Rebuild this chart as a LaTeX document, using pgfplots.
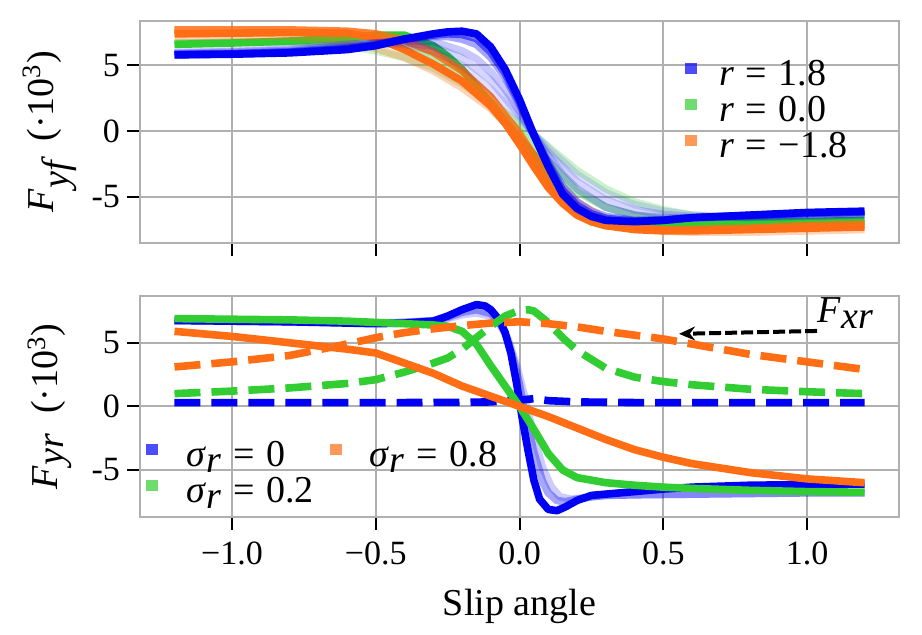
\documentclass[border=0pt]{standalone}
\usepackage{fontspec}
\setmainfont{Liberation Serif}
\usepackage{pgfplots}
\pgfplotsset{compat=1.18}
\usetikzlibrary{arrows.meta}
\definecolor{cblue}{RGB}{0,0,245}
\definecolor{cgreen}{RGB}{50,205,50}
\definecolor{corange}{RGB}{255,110,20}
\definecolor{cgrid}{RGB}{176,176,176}
\newcommand{\ff}{\rmfamily\fontsize{17}{20}\selectfont}
\newcommand{\fl}{\rmfamily\fontsize{19}{22}\selectfont}
\newcommand{\eq}{\hspace{0.3em}=\hspace{0.3em}}
\pgfplotsset{
 common/.style={
  scale only axis, width=379.5pt,
  xmin=-1.32, xmax=1.32,
  xtick={-1,-0.5,0,0.5,1},
  ytick={-5,0,5}, yticklabels={-5,0,5},
  xtick pos=left, ytick pos=left,
  grid=major, major grid style={cgrid, line width=1pt},
  axis line style={cgrid, line width=1pt},
  tick align=outside, major tick style={black, line width=1pt}, major tick length=6.5pt,
  tick label style={font=\ff},
  every axis plot/.append style={line width=3.8pt, line join=round},
  legend style={draw=none, fill=none, font=\fl, nodes={inner sep=0pt, text height=11pt, text depth=4pt}, row sep=2.5pt},
  legend cell align=left,
  every axis y label/.style={at={(axis description cs:-0.119,0.5)}, rotate=90, anchor=center, font=\fl},
 },
 dashedf/.style={dash pattern=on 13pt off 5.5pt},
}
\begin{document}
\begin{tikzpicture}
\path[use as bounding box] (0,0) rectangle (461pt,-317pt);
% ---------------- top axis
\begin{axis}[common, at={(70pt,-10.35pt)}, anchor=north west, height=111pt,
  ymin=-8.5, ymax=8.4, xticklabels={},
  ylabel={\textit{F}$_{\textit{yf}}$\enspace(·10\textsuperscript{3})},
  legend image code/.code={\path[#1, draw=none, fill, opacity=0.7] (0pt,2.5pt) rectangle (6pt,8pt);},
  legend style={at={(axis description cs:0.709,0.83)}, anchor=north west,
    /tikz/every odd column/.append style={column sep=11.5pt}},
]
\addlegendimage{cblue}\addlegendentry{\textit{r}\eq 1.8}
\addlegendimage{cgreen}\addlegendentry{\textit{r}\eq 0.0}
\addlegendimage{corange}\addlegendentry{\textit{r}\eq −1.8}
% green fan
\addplot[cgreen, opacity=0.25, forget plot] coordinates {(-1.2,6.7)(-0.8,6.8)(-0.6,6.5)(-0.5,6.1)(-0.4,5.6)(-0.3,4.8)(-0.2,3.6)(-0.1,2.2)(0,0.6)(0.1,-1.2)(0.2,-3.0)(0.3,-4.4)(0.4,-5.4)(0.5,-6.0)(0.6,-6.4)(0.8,-6.8)(1.0,-6.9)(1.2,-6.9)};
\addplot[cgreen, opacity=0.4, forget plot] coordinates {(-1.2,6.65)(-0.8,6.85)(-0.6,6.8)(-0.5,6.7)(-0.4,6.5)(-0.3,5.7)(-0.2,4.2)(-0.1,2.2)(0,0.0)(0.1,-2.3)(0.2,-4.6)(0.3,-5.8)(0.4,-6.4)(0.5,-6.7)(0.6,-6.9)(0.8,-6.9)(1.0,-6.9)(1.2,-6.85)};
\addplot[cgreen, forget plot] coordinates {(-1.2,6.6)(-1.0,6.7)(-0.8,6.85)(-0.6,7.1)(-0.5,7.3)(-0.4,7.3)(-0.3,6.5)(-0.25,5.7)(-0.2,4.7)(-0.15,3.4)(-0.1,2.1)(-0.05,0.7)(0,-0.6)(0.05,-1.8)(0.1,-3.4)(0.15,-5.0)(0.2,-6.2)(0.25,-6.9)(0.3,-7.2)(0.4,-7.4)(0.5,-7.35)(0.6,-7.2)(0.8,-7.0)(1.0,-6.9)(1.2,-6.8)};
% orange band
\addplot[corange, opacity=0.3, forget plot] coordinates {(-1.2,7.2)(-1.0,7.25)(-0.8,7.2)(-0.6,6.8)(-0.5,6.3)(-0.4,5.6)(-0.3,4.6)(-0.2,3.3)(-0.1,1.7)(0,-0.5)(0.1,-3.2)(0.2,-5.4)(0.3,-6.7)(0.4,-7.3)(0.5,-7.6)(0.6,-7.7)(0.8,-7.7)(1.0,-7.6)(1.2,-7.5)};
\addplot[corange, opacity=0.85, forget plot] coordinates {(-1.2,7.7)(-1.0,7.7)(-0.8,7.7)(-0.6,7.6)(-0.5,7.4)(-0.4,6.9)(-0.3,6.0)(-0.2,4.6)(-0.1,2.6)(0,-0.2)(0.05,-1.9)(0.1,-3.6)(0.2,-5.9)(0.3,-7.0)(0.4,-7.4)(0.5,-7.5)(0.6,-7.5)(0.8,-7.4)(1.0,-7.2)(1.2,-7.1)};
\addplot[corange, forget plot] coordinates {(-1.2,7.4)(-1.0,7.45)(-0.8,7.5)(-0.6,7.45)(-0.5,7.1)(-0.4,6.2)(-0.3,5.1)(-0.2,3.8)(-0.1,1.9)(-0.05,0.6)(0,-1.0)(0.05,-2.7)(0.1,-4.3)(0.15,-5.5)(0.2,-6.4)(0.25,-6.9)(0.3,-7.2)(0.4,-7.5)(0.5,-7.6)(0.6,-7.6)(0.8,-7.5)(1.0,-7.4)(1.2,-7.3)};
% blue fan
\addplot[cblue, opacity=0.12, forget plot] coordinates {(-1.2,6.0)(-1.0,6.1)(-0.8,6.3)(-0.6,6.6)(-0.5,6.7)(-0.4,6.6)(-0.3,6.1)(-0.2,5.0)(-0.1,3.2)(0,0.9)(0.05,-0.2)(0.1,-1.3)(0.2,-3.3)(0.3,-4.7)(0.4,-5.6)(0.5,-6.1)(0.6,-6.4)(0.8,-6.6)(1.0,-6.5)(1.2,-6.4)};
\addplot[cblue, opacity=0.16, forget plot] coordinates {(-1.2,5.95)(-1.0,6.05)(-0.8,6.22)(-0.6,6.55)(-0.5,6.7)(-0.4,6.75)(-0.3,6.45)(-0.2,5.55)(-0.1,3.85)(0,1.2)(0.05,-0.25)(0.1,-1.6)(0.2,-3.85)(0.3,-5.25)(0.4,-6.0)(0.5,-6.35)(0.6,-6.5)(0.8,-6.55)(1.0,-6.45)(1.2,-6.35)};
\addplot[cblue, opacity=0.22, forget plot] coordinates {(-1.2,5.9)(-1.0,6.0)(-0.8,6.15)(-0.6,6.5)(-0.5,6.7)(-0.4,6.9)(-0.3,6.8)(-0.2,6.1)(-0.15,5.5)(-0.1,4.5)(-0.05,3.2)(0,1.5)(0.05,-0.3)(0.1,-1.9)(0.15,-3.3)(0.2,-4.4)(0.3,-5.8)(0.4,-6.4)(0.5,-6.6)(0.6,-6.6)(0.8,-6.5)(1.0,-6.4)(1.2,-6.3)};
\addplot[cblue, opacity=0.35, forget plot] coordinates {(-1.2,5.85)(-1.0,5.9)(-0.8,6.05)(-0.6,6.35)(-0.5,6.6)(-0.4,7.0)(-0.3,7.2)(-0.25,7.2)(-0.2,7.0)(-0.15,6.6)(-0.1,5.6)(-0.05,4.1)(0,2.0)(0.05,-0.3)(0.1,-2.4)(0.15,-4.2)(0.2,-5.4)(0.25,-6.1)(0.3,-6.5)(0.4,-6.8)(0.5,-6.75)(0.6,-6.6)(0.8,-6.45)(1.0,-6.3)(1.2,-6.2)};
\addplot[cblue, opacity=0.55, forget plot] coordinates {(-1.2,5.8)(-1.0,5.87)(-0.8,6.0)(-0.6,6.27)(-0.5,6.55)(-0.4,7.0)(-0.3,7.3)(-0.25,7.4)(-0.2,7.35)(-0.15,7.05)(-0.1,6.0)(-0.05,4.4)(0,2.2)(0.05,-0.3)(0.1,-2.55)(0.15,-4.5)(0.2,-5.65)(0.25,-6.3)(0.3,-6.65)(0.4,-6.85)(0.5,-6.8)(0.6,-6.6)(0.8,-6.42)(1.0,-6.25)(1.2,-6.15)};
\addplot[cblue, forget plot] coordinates {(-1.2,5.8)(-1.0,5.85)(-0.8,5.95)(-0.6,6.2)(-0.5,6.5)(-0.4,7.0)(-0.3,7.4)(-0.25,7.55)(-0.2,7.6)(-0.15,7.4)(-0.1,6.4)(-0.05,4.7)(0,2.4)(0.05,-0.3)(0.1,-2.7)(0.15,-4.8)(0.2,-5.9)(0.25,-6.5)(0.3,-6.8)(0.4,-6.9)(0.5,-6.8)(0.6,-6.6)(0.8,-6.4)(1.0,-6.2)(1.2,-6.1)};
\end{axis}
% ---------------- bottom axis
\begin{axis}[common, at={(70pt,-147.85pt)}, anchor=north west, height=110.65pt,
  ymin=-8.7, ymax=8.7,
  xticklabels={−1.0,−0.5,0.0,0.5,1.0},
  xticklabel style={yshift=-2.5pt},
  xlabel={Slip angle},
  every axis x label/.style={at={(axis description cs:0.5,-0.402)}, anchor=center, font=\fl},
  ylabel={\textit{F}$_{\textit{yr}}$\enspace(·10\textsuperscript{3})},
  legend columns=2,
  legend image code/.code={\path[#1, draw=none, fill, opacity=0.7] (0pt,2.5pt) rectangle (6pt,8pt);},
  legend style={at={(axis description cs:0.0,0.35)}, anchor=north west,
    /tikz/every odd column/.append style={column sep=14pt},
    /tikz/every even column/.append style={column sep=8pt}},
]
\addlegendimage{cblue}\addlegendentry{\textit{σ}$_{\textit{r}}$\eq 0}
\addlegendimage{corange}\addlegendentry{\textit{σ}$_{\textit{r}}$\eq 0.8}
\addlegendimage{cgreen}\addlegendentry{\textit{σ}$_{\textit{r}}$\eq 0.2}
% blue sigma=0
\addplot[cblue, opacity=0.2, forget plot] coordinates {(-1.2,6.75)(-1.0,6.7)(-0.8,6.65)(-0.6,6.6)(-0.5,6.55)(-0.4,6.6)(-0.3,6.7)(-0.25,6.9)(-0.2,7.2)(-0.15,7.35)(-0.1,7.1)(-0.07,6.5)(-0.04,5.3)(-0.01,3.2)(0.02,0.6)(0.05,-2.4)(0.08,-4.8)(0.11,-6.3)(0.14,-7.1)(0.18,-7.3)(0.22,-7.2)(0.3,-7.0)(0.4,-6.95)(0.6,-6.9)(0.8,-6.85)(1.0,-6.8)(1.2,-6.8)};
\addplot[cblue, opacity=0.35, forget plot] coordinates {(-1.2,6.75)(-1.0,6.7)(-0.8,6.65)(-0.6,6.6)(-0.5,6.55)(-0.4,6.6)(-0.3,6.75)(-0.25,7.0)(-0.2,7.4)(-0.15,7.6)(-0.1,7.3)(-0.07,6.6)(-0.05,5.8)(-0.02,3.6)(0,1.7)(0.02,-0.6)(0.05,-3.6)(0.08,-5.9)(0.1,-6.8)(0.13,-7.4)(0.16,-7.5)(0.2,-7.3)(0.25,-7.1)(0.3,-7.0)(0.4,-6.95)(0.6,-6.9)(0.8,-6.85)(1.0,-6.8)(1.2,-6.8)};
\addplot[cblue, forget plot] coordinates {(-1.2,6.75)(-1.0,6.7)(-0.8,6.65)(-0.6,6.55)(-0.5,6.5)(-0.4,6.55)(-0.3,6.7)(-0.25,7.1)(-0.2,7.6)(-0.15,8.0)(-0.12,7.9)(-0.1,7.6)(-0.07,6.8)(-0.05,5.8)(-0.03,4.2)(-0.01,1.8)(0,0.4)(0.01,-1.0)(0.03,-3.5)(0.05,-5.8)(0.07,-7.3)(0.1,-8.1)(0.13,-8.2)(0.16,-7.9)(0.2,-7.4)(0.25,-7.0)(0.3,-6.9)(0.4,-6.7)(0.5,-6.5)(0.6,-6.35)(0.8,-6.2)(1.0,-6.15)(1.2,-6.1)};
\addplot[cblue, dashedf, forget plot] coordinates {(-1.2,0.3)(-0.8,0.3)(-0.4,0.3)(-0.2,0.32)(-0.1,0.35)(-0.05,0.45)(0,0.5)(0.05,0.6)(0.1,0.45)(0.2,0.35)(0.4,0.3)(0.8,0.3)(1.2,0.3)};
% green sigma=0.2
\addplot[cgreen, forget plot] coordinates {(-1.2,6.9)(-1.0,6.85)(-0.8,6.8)(-0.6,6.7)(-0.5,6.6)(-0.4,6.5)(-0.3,6.4)(-0.25,6.3)(-0.2,5.9)(-0.15,4.9)(-0.1,3.2)(-0.05,1.6)(0,0.0)(0.05,-1.8)(0.1,-3.7)(0.15,-5.0)(0.2,-5.6)(0.3,-6.0)(0.4,-6.2)(0.5,-6.35)(0.6,-6.45)(0.8,-6.6)(1.0,-6.7)(1.2,-6.75)};
\addplot[cgreen, dashedf, forget plot] coordinates {(-1.2,1.0)(-1.0,1.2)(-0.8,1.45)(-0.6,1.8)(-0.5,2.1)(-0.4,2.7)(-0.3,3.4)(-0.25,3.8)(-0.2,4.5)(-0.15,5.4)(-0.1,6.3)(-0.05,7.1)(0,7.55)(0.03,7.6)(0.05,7.5)(0.1,6.6)(0.15,5.4)(0.2,4.4)(0.3,3.0)(0.4,2.3)(0.5,1.95)(0.6,1.7)(0.8,1.35)(1.0,1.15)(1.2,1.0)};
% orange sigma=0.8
\addplot[corange, forget plot] coordinates {(-1.2,5.9)(-1.0,5.5)(-0.8,5.0)(-0.6,4.5)(-0.5,4.2)(-0.4,3.4)(-0.3,2.6)(-0.2,1.6)(-0.1,0.8)(0,0)(0.1,-0.8)(0.2,-1.7)(0.3,-2.6)(0.4,-3.4)(0.5,-4.0)(0.6,-4.5)(0.8,-5.2)(1.0,-5.7)(1.2,-6.0)};
\addplot[corange, dashedf, forget plot] coordinates {(-1.2,3.1)(-1.0,3.5)(-0.8,4.0)(-0.6,4.9)(-0.5,5.4)(-0.4,5.8)(-0.3,6.1)(-0.2,6.35)(-0.1,6.55)(0,6.65)(0.1,6.5)(0.2,6.25)(0.3,5.9)(0.4,5.6)(0.5,5.3)(0.6,4.9)(0.7,4.5)(0.8,4.1)(1.0,3.5)(1.2,2.9)};
% annotation
\draw[black, line width=2pt, dash pattern=on 6pt off 2pt, -{Stealth[length=8pt,width=7pt]}] (axis cs:1.035,5.93) -- (axis cs:0.555,5.7);
\node[font=\rmfamily\fontsize{19}{22}\selectfont, anchor=center] at (axis cs:1.135,7.35) {\textit{F}$_{\textit{xr}}$};
\end{axis}
\end{tikzpicture}
\end{document}
